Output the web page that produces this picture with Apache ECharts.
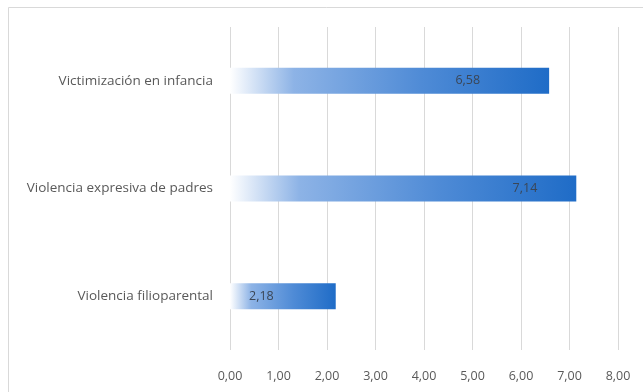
<!DOCTYPE html>
<html>
<head>
<meta charset="utf-8">
<script src="https://cdn.jsdelivr.net/npm/echarts@6/dist/echarts.min.js"></script>
<style>
  html, body { margin: 0; padding: 0; background: #fff; }
  #main { width: 643px; height: 392px; }
</style>
</head>
<body>
<div id="main"></div>
<script>
// categorias (de abajo hacia arriba)
var categorias = ['Violencia filioparental', 'Violencia expresiva de padres', 'Victimización en infancia'];
var valores = [2.18, 7.14, 6.58];
var ticks = [0, 1, 2, 3, 4, 5, 6, 7, 8];

// distancia de la etiqueta al final de cada barra (px)
var distEtiqueta = [62, 39, 69];

function coma(v, d) {
  return v.toFixed(d).replace('.', ',');
}

var datos = [];
for (var i = 0; i < valores.length; i++) {
  datos.push({ value: valores[i], label: { distance: distEtiqueta[i] } });
}

var myChart = echarts.init(document.getElementById('main'));

var option = {
  animation: false,
  backgroundColor: '#fff',
  textStyle: { fontFamily: 'Open Sans' },
  graphic: [
    {
      type: 'rect',
      shape: { x: 8.5, y: 7.5, width: 640, height: 390 },
      style: { fill: 'none', stroke: '#d9d9d9', lineWidth: 1 },
      silent: true
    }
  ],
  grid: { left: 230, right: 25, top: 27, bottom: 42 },
  xAxis: {
    type: 'value',
    min: ticks[0],
    max: ticks[ticks.length - 1],
    interval: 1,
    axisLine: { show: false },
    axisTick: { show: false },
    splitLine: { lineStyle: { color: '#d9d9d9', width: 1 } },
    axisLabel: {
      color: '#595959',
      fontSize: 12.5,
      margin: 20,
      formatter: function (v) { return coma(v, 2); }
    }
  },
  yAxis: {
    type: 'category',
    data: categorias,
    axisLine: { show: false },
    axisTick: { show: false },
    axisLabel: { color: '#595959', fontSize: 13.5, margin: 17 }
  },
  series: [
    {
      type: 'bar',
      data: datos,
      barWidth: 26,
      itemStyle: {
        color: {
          type: 'linear',
          x: 0, y: 0, x2: 1, y2: 0,
          colorStops: [
            { offset: 0, color: '#ffffff' },
            { offset: 0.2, color: '#8db3e6' },
            { offset: 0.6, color: '#4f8bd6' },
            { offset: 1, color: '#1f6cc7' }
          ]
        }
      },
      label: {
        show: true,
        position: 'insideRight',
        color: '#3b4656',
        fontSize: 12.5,
        formatter: function (p) { return coma(p.value, 2); }
      }
    }
  ]
};

myChart.setOption(option);
</script>
</body>
</html>
